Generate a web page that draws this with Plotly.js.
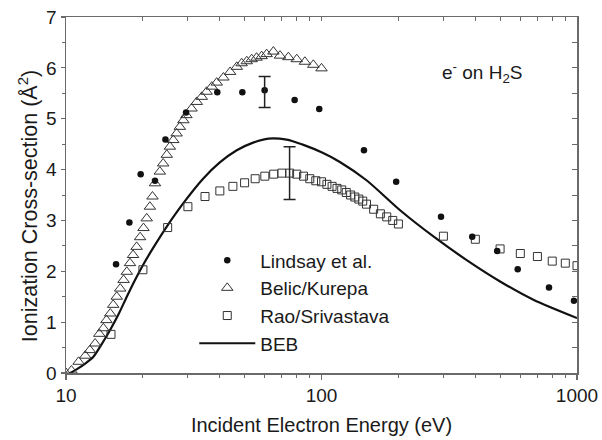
<!DOCTYPE html>
<html>
<head>
<meta charset="utf-8">
<script src="https://cdn.plot.ly/plotly-3.0.1.min.js"></script>
<style>html,body{margin:0;padding:0;background:#fff;}#chart{width:602px;height:440px;}</style>
</head>
<body>
<div id="chart"></div>
<script>
// Lindsay et al. (filled circles)
var lindsayE = [15.7, 17.7, 19.6, 22.3, 24.5, 29.5, 39.1, 49, 59.9, 78.5, 98, 146.6, 196, 293.6, 389, 487, 586, 777, 973];
var lindsayS = [2.14, 2.96, 3.91, 3.78, 4.59, 5.12, 5.52, 5.52, 5.56, 5.37, 5.19, 4.38, 3.76, 3.07, 2.68, 2.40, 2.04, 1.68, 1.42];
// error bar on Lindsay at ~60 eV
var lindsayErrE = [59.9];
var lindsayErrS = [5.56];
var lindsayErrPlus = [0.27];
var lindsayErrMinus = [0.34];

// Belic/Kurepa (open triangles)
var belicE = [10, 10.5, 11.2, 11.9, 12.4, 13, 13.5, 14, 14.4, 14.9, 15.3, 15.8, 16.3, 16.8, 17.3, 17.8, 18.3, 18.9, 19.5, 20.1, 20.7, 21.3, 21.8, 22.3, 23.3, 24, 24.8, 25.5, 26.3, 27.1, 27.9, 28.8, 29.6, 31, 32.5, 34, 35.5, 37.2, 38.9, 41.3, 43.9, 46.6, 48.7, 51, 53.3, 55.7, 58.3, 61, 64.8, 68.8, 74.2, 80, 86.1, 92.9, 100];
var belicS = [0, 0.05, 0.22, 0.34, 0.45, 0.58, 0.77, 0.88, 1.04, 1.17, 1.34, 1.50, 1.66, 1.83, 1.99, 2.16, 2.32, 2.48, 2.67, 2.85, 3.04, 3.27, 3.47, 3.73, 3.96, 4.12, 4.29, 4.45, 4.58, 4.71, 4.84, 4.97, 5.07, 5.20, 5.33, 5.43, 5.53, 5.63, 5.71, 5.81, 5.92, 6.02, 6.09, 6.13, 6.17, 6.20, 6.23, 6.27, 6.32, 6.24, 6.21, 6.17, 6.12, 6.06, 5.99];

// Rao/Srivastava (open squares)
var raoE = [15, 20, 25, 30, 35, 40, 45, 50, 55, 60, 65, 70, 75, 80, 85, 90, 95, 100, 105, 110, 115, 120, 125, 130, 135, 140, 145, 150, 160, 170, 180, 190, 200, 300, 400, 500, 600, 700, 800, 900, 1000];
var raoS = [0.76, 2.03, 2.86, 3.27, 3.47, 3.58, 3.67, 3.74, 3.82, 3.87, 3.91, 3.93, 3.93, 3.91, 3.87, 3.82, 3.78, 3.76, 3.71, 3.67, 3.63, 3.60, 3.55, 3.50, 3.46, 3.42, 3.38, 3.32, 3.22, 3.13, 3.07, 3.00, 2.93, 2.69, 2.63, 2.44, 2.35, 2.29, 2.20, 2.16, 2.11];
// error bar on Rao at 75 eV
var raoErrE = [75];
var raoErrS = [3.93];
var raoErrVal = [0.52];

// BEB theory (solid line)
var bebE = [10.4, 11, 12, 12.8, 14, 14.9, 16, 17.3, 18.5, 20, 22, 24.8, 28.8, 34.4, 40, 46.6, 54, 62, 73, 84.5, 101, 118, 150, 203, 275, 370, 500, 675, 1000];
var bebS = [0, 0.07, 0.2, 0.32, 0.62, 0.85, 1.14, 1.50, 1.80, 2.12, 2.47, 2.88, 3.34, 3.82, 4.14, 4.38, 4.53, 4.61, 4.59, 4.49, 4.33, 4.15, 3.79, 3.20, 2.68, 2.22, 1.80, 1.44, 1.08];

var xMajor = [10, 100, 1000];
var xMajorText = ['10', '100', '1000'];
var xMinor = [20, 30, 40, 50, 60, 70, 80, 90, 200, 300, 400, 500, 600, 700, 800, 900];
var yMajor = [0, 1, 2, 3, 4, 5, 6, 7];

var FONT = '"Liberation Sans", Arial, Helvetica, sans-serif';
var INK = '#1a1a1a';
var AX = '#6a6a6a';

var traces = [
  {x: bebE, y: bebS, mode: 'lines', name: 'BEB', line: {color: '#111', width: 2.2, shape: 'spline', smoothing: 0.8}, legendrank: 4},
  {x: raoE, y: raoS, mode: 'markers', name: 'Rao/Srivastava', marker: {symbol: 'square-open', size: 8, color: '#333', line: {width: 1}}, legendrank: 3},
  {x: belicE, y: belicS, mode: 'markers', name: 'Belic/Kurepa', marker: {symbol: 'triangle-up-open', size: 10, color: '#333', line: {width: 1}}, legendrank: 2},
  {x: lindsayE, y: lindsayS, mode: 'markers', name: 'Lindsay et al.', marker: {symbol: 'circle', size: 6.5, color: '#111'}, legendrank: 1},
  {x: lindsayErrE, y: lindsayErrS, mode: 'markers', showlegend: false, hoverinfo: 'skip', marker: {size: 6, opacity: 0},
   error_y: {type: 'data', symmetric: false, array: lindsayErrPlus, arrayminus: lindsayErrMinus, color: '#222', thickness: 1.5, width: 6}},
  {x: raoErrE, y: raoErrS, mode: 'markers', showlegend: false, hoverinfo: 'skip', marker: {size: 6, opacity: 0},
   error_y: {type: 'data', array: raoErrVal, color: '#222', thickness: 1.5, width: 6}},
  {x: [], y: [], xaxis: 'x2', yaxis: 'y2', showlegend: false, hoverinfo: 'skip', mode: 'markers'}
];

var layout = {
  width: 602, height: 440,
  margin: {l: 66, r: 25, t: 17, b: 67},
  paper_bgcolor: '#fff', plot_bgcolor: '#fff',
  font: {family: FONT, color: INK, size: 19},
  showlegend: true,
  legend: {x: 0.251, y: 0.37, xanchor: 'left', yanchor: 'top', bgcolor: 'rgba(0,0,0,0)',
           font: {family: FONT, size: 19, color: INK}, itemwidth: 56, traceorder: 'normal'},
  xaxis: {type: 'log', range: [1, 3], tickmode: 'array', tickvals: xMajor, ticktext: xMajorText,
          ticks: 'outside', ticklen: 5, tickwidth: 1.2, tickcolor: AX,
          showline: true, linecolor: AX, linewidth: 1.5, showgrid: false, zeroline: false,
          minor: {tickmode: 'array', tickvals: xMinor, ticks: 'outside', ticklen: 3, tickwidth: 1, tickcolor: AX, showgrid: false},
          tickfont: {size: 19, family: FONT, color: INK},
          title: {text: 'Incident Electron Energy (eV)', font: {size: 20, family: FONT, color: INK}, standoff: 12}},
  yaxis: {range: [0, 7], tickmode: 'array', tickvals: yMajor,
          ticks: 'outside', ticklen: 4, tickwidth: 1.2, tickcolor: AX,
          showline: true, linecolor: AX, linewidth: 1.5, showgrid: false, zeroline: false,
          minor: {dtick: 0.5, ticks: 'outside', ticklen: 3, tickwidth: 1, tickcolor: AX, showgrid: false},
          tickfont: {size: 19, family: FONT, color: INK}},
  xaxis2: {type: 'log', range: [1, 3], overlaying: 'x', side: 'top', tickmode: 'array', tickvals: xMinor.concat([100]),
           ticks: 'inside', ticklen: 4, tickwidth: 1, tickcolor: AX, showticklabels: false,
           showline: true, linecolor: AX, linewidth: 1.5, showgrid: false, zeroline: false},
  yaxis2: {range: [0, 7], overlaying: 'y', side: 'right', tickmode: 'linear', tick0: 0, dtick: 0.5,
           ticks: 'inside', ticklen: 5, tickwidth: 1, tickcolor: AX, showticklabels: false,
           showline: true, linecolor: AX, linewidth: 1.5, showgrid: false, zeroline: false},
  annotations: [
    {xref: 'paper', yref: 'paper', x: 0.7325, y: 0.843, xanchor: 'left', yanchor: 'middle', showarrow: false,
     text: 'e<sup>-</sup> on H<sub>2</sub>S', font: {family: FONT, size: 19, color: INK}},
    {xref: 'paper', yref: 'paper', x: -0.074, y: 0.469, xanchor: 'center', yanchor: 'middle', showarrow: false, textangle: -90,
     text: 'Ionization Cross-section (Å<sup>2</sup>)', font: {family: FONT, size: 21.5, color: INK}}
  ]
};

Plotly.newPlot('chart', traces, layout, {displayModeBar: false, staticPlot: true});
</script>
</body>
</html>
